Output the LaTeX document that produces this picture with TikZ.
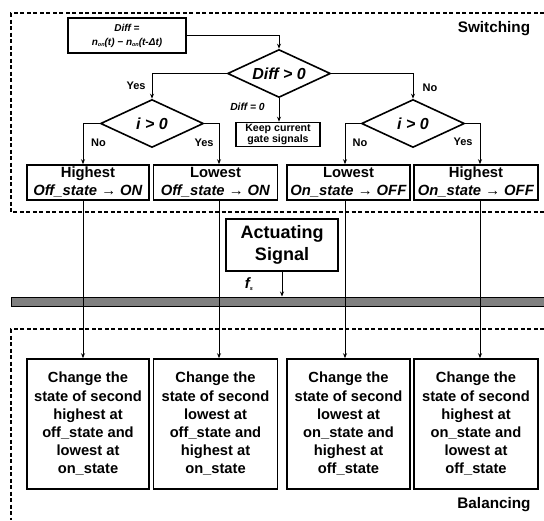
\documentclass[tikz,border=0pt]{standalone}
\usepackage{fontspec}
\setmainfont{Liberation Sans}
\usetikzlibrary{shapes.geometric,arrows.meta,calc}
\newcommand{\sbx}[1]{\raisebox{-0.3ex}{\fontsize{5.5}{6}\selectfont #1}}
\begin{document}
\begin{tikzpicture}[x=1pt,y=-1pt,
 box/.style={draw,line width=1.6pt,inner sep=0pt,align=center,font=\fontsize{14.8}{18}\selectfont\bfseries},
 dia/.style={diamond,draw,line width=1.6pt,inner sep=0pt,minimum width=103pt,minimum height=48pt,aspect=2.15,font=\fontsize{16}{18}\selectfont\bfseries\itshape},
 conn/.style={line width=0.9pt},
 arr/.style={conn,-{Stealth[length=5pt,width=4pt]}},
 lab/.style={font=\fontsize{11}{12}\selectfont\bfseries},
 region/.style={line width=1.6pt,dash pattern=on 4pt off 2.5pt}]
\useasboundingbox (0,0) rectangle (544,520);

% regions
\draw[region] (544,13) -- (11,13) -- (11,212) -- (544,212);
\draw[region] (544,329) -- (11,329) -- (11,520);

% nodes
\node[box,minimum width=118pt,minimum height=35pt,font=\fontsize{10}{14}\selectfont\bfseries\itshape] (diff) at (127,35.5) {Diff =\\ n\sbx{on}(t) − n\sbx{on}(t-Δt)};
\node[dia] (d1) at (279,73.5) {Diff > 0};
\node[dia] (d2) at (152,123.5) {i > 0};
\node[dia] (d3) at (413,123.5) {i > 0};
\node[box,minimum width=84pt,minimum height=24pt,font=\fontsize{10.6}{11}\selectfont\bfseries] (keep) at (278,134.5) {Keep current\\gate signals};

\node[box,minimum width=122pt,minimum height=35pt] (h1) at (88,182.5) {Highest\\\textit{Off\_state → ON}};
\node[box,minimum width=124pt,minimum height=35pt] (h2) at (215.5,182.5) {Lowest\\\textit{Off\_state → ON}};
\node[box,minimum width=123pt,minimum height=35pt] (h3) at (348.5,182.5) {Lowest\\\textit{On\_state → OFF}};
\node[box,minimum width=124pt,minimum height=35pt] (h4) at (476,182.5) {Highest\\\textit{On\_state → OFF}};

\node[box,minimum width=112pt,minimum height=52pt,font=\fontsize{18}{22}\selectfont\bfseries] (act) at (282,245) {Actuating\\Signal};
\node[draw,fill=black!50,line width=1pt,minimum width=533pt,minimum height=9pt,inner sep=0pt] (bar) at (277.5,301.5) {};

\tikzset{cbox/.style={box,minimum height=130pt,font=\fontsize{14.7}{18.2}\selectfont\bfseries}}
\node[cbox,minimum width=122pt] (c1) at (88,424) {Change the\\state of second\\highest at\\off\_state and\\lowest at\\on\_state};
\node[cbox,minimum width=124pt] (c2) at (215.5,424) {Change the\\state of second\\lowest at\\off\_state and\\highest at\\on\_state};
\node[cbox,minimum width=123pt] (c3) at (348.5,424) {Change the\\state of second\\lowest at\\on\_state and\\highest at\\off\_state};
\node[cbox,minimum width=124pt] (c4) at (476,424) {Change the\\state of second\\highest at\\on\_state and\\lowest at\\off\_state};

% labels
\node[lab] (yes1) at (136,86) {Yes};
\node[lab] (no1) at (430,88) {No};
\node[lab] (no2) at (98.5,143) {No};
\node[lab] (yes2) at (204,143) {Yes};
\node[lab] (no3) at (360,143) {No};
\node[lab] (yes3) at (463,142) {Yes};
\node[font=\fontsize{10.3}{11}\selectfont\bfseries\itshape] (d0) at (247.5,107) {Diff = 0};
\node[font=\fontsize{15}{16}\selectfont\bfseries\itshape] (fs) at (249,284) {f\sbx{s}};
\node[font=\fontsize{15.3}{17}\selectfont\bfseries] (sw) at (494,29) {Switching};
\node[font=\fontsize{15.3}{17}\selectfont\bfseries] (bal) at (494,505) {Balancing};

% connectors
\coordinate (x1) at (83,0);
\coordinate (x2) at (219,0);
\coordinate (x3) at (345,0);
\coordinate (x4) at (480,0);
\draw[arr] (diff.east) -| (d1.north);
\draw[arr] (d1.south) -- (d1.south |- keep.north);
\draw[arr] (d1.west) -| (d2.north);
\draw[arr] (d1.east) -| (d3.north);
\draw[arr] (d2.west) -| (x1 |- h1.north);
\draw[arr] (d2.east) -| (x2 |- h2.north);
\draw[arr] (d3.west) -| (x3 |- h3.north);
\draw[arr] (d3.east) -| (x4 |- h4.north);
\draw[arr] (x1 |- h1.south) -- (x1 |- c1.north);
\draw[arr] (x2 |- h2.south) -- (x2 |- c2.north);
\draw[arr] (x3 |- h3.south) -- (x3 |- c3.north);
\draw[arr] (x4 |- h4.south) -- (x4 |- c4.north);
\draw[arr] (act.south) -- (act.south |- bar.north);
\end{tikzpicture}
\end{document}
